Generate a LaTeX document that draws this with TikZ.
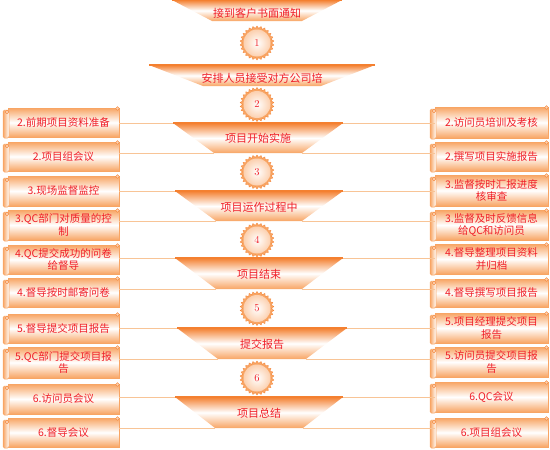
\documentclass[tikz,border=0pt]{standalone}
\usepackage{fontspec}
\newfontfamily\cjk{Noto Sans CJK SC}
\usetikzlibrary{shapes.geometric}
\definecolor{oD}{RGB}{244,128,48}
\definecolor{oM}{RGB}{248,165,100}
\definecolor{oL}{RGB}{252,208,175}
\definecolor{lineC}{RGB}{248,196,150}
\definecolor{txt}{RGB}{240,30,40}
\tikzset{
  btext/.style={font=\cjk\fontsize{11}{13}\selectfont, text=txt, inner sep=0pt},
  sbox/.style={draw=oM, line width=0.6pt, top color=oM, bottom color=oM, middle color=white,
    font=\cjk\fontsize{10.5}{12.5}\selectfont, text=txt, align=center, inner sep=0pt, text width=106pt},
  conn/.style={draw=lineC, line width=0.8pt},
  sun/.style={star, star points=26, star point ratio=1.16, fill=oM, draw=oD, line width=0.3pt,
    minimum size=34pt, inner sep=0pt},
  sunin/.style={circle, inner color=white, outer color=oL, minimum size=27pt, inner sep=0pt,
    font=\fontsize{10.5}{12}\selectfont, text=txt},
}
\newcommand\banner[8]{% name, cx, ytop, ybot, halftop, halfbot, texty, text
  \coordinate (#1tl) at ({#2-#5},#3);
  \coordinate (#1tr) at ({#2+#5},#3);
  \coordinate (#1br) at ({#2+#6},#4);
  \coordinate (#1bl) at ({#2-#6},#4);
  \shade[top color=oD, bottom color=oM, middle color=white] (#1tl)--(#1tr)--(#1br)--(#1bl)--cycle;
  \draw[oD, line width=1.2pt] (#1tl) -- (#1tr);
  \node[btext] (#1) at (#2,#7) {#8};
}
\newcommand\scrollbox[6]{% name, x1, y1, x2, y2, text
  \node[sbox, minimum width={(#4-#2-5)*1pt}, minimum height={(#5-#3-3)*1pt}]
    (#1) at ({(#2+#4+5)/2},{(#3+#5+1)/2}) {#6};
  \shade[draw=oM, line width=0.5pt, left color=oM, right color=white, rounded corners=1.5pt]
    (#2,{#3+4}) rectangle ({#2+6},#5);
  \filldraw[fill=oL, draw=oD, line width=0.4pt] ({#2+4},{#3+6}) circle (1.8pt);
  \filldraw[fill=oL, draw=oD, line width=0.4pt] ({#4-1.5},{#3+2.5}) circle (1.8pt);
}
\newcommand\sunnode[3]{% name, y, number
  \node[sun] (#1) at (257,#2) {};
  \node[sunin] (#1n) at (#1) {#3};
}
\begin{document}
\begin{tikzpicture}[x=1pt,y=-1pt]
\useasboundingbox (0,0) rectangle (550,450);

% banners
\banner{b1}{257}{0}{21}{85}{45}{13}{接到客户书面通知}
\banner{b2}{262}{65}{86}{113}{59}{78}{安排人员接受对方公司培}
\banner{b3}{258}{123}{153}{85}{44}{138}{项目开始实施}
\banner{b4}{259}{191}{221}{84}{43}{207}{项目运作过程中}
\banner{b5}{259}{258}{289}{84}{43}{274}{项目结束}
\banner{b6}{262}{328}{359}{85}{44}{344}{提交报告}
\banner{b7}{259}{397}{428}{84}{44}{413}{项目总结}

% suns
\sunnode{s1}{43}{1}
\sunnode{s2}{104.5}{2}
\sunnode{s3}{172}{3}
\sunnode{s4}{240}{4}
\sunnode{s5}{308.5}{5}
\sunnode{s6}{378}{6}

% left boxes
\scrollbox{La}{3}{106}{119}{138}{2.前期项目资料准备}
\scrollbox{Lb}{3}{140}{119}{172}{2.项目组会议}
\scrollbox{Lc}{3}{174}{119}{207}{3.现场监督监控}
\scrollbox{Ld}{3}{208}{119}{241}{3.QC部门对质量的控\\制}
\scrollbox{Le}{3}{243}{119}{275}{4.QC提交成功的问卷\\给督导}
\scrollbox{Lf}{3}{276}{119}{308}{4.督导按时邮寄问卷}
\scrollbox{Lg}{3}{312}{119}{344}{5.督导提交项目报告}
\scrollbox{Lh}{3}{345}{119}{379}{5.QC部门提交项目报\\告}
\scrollbox{Li}{3}{382}{119}{415}{6.访问员会议}
\scrollbox{Lj}{3}{416}{119}{448}{6.督导会议}

% right boxes
\scrollbox{Ra}{430}{105}{548}{139}{2.访问员培训及考核}
\scrollbox{Rb}{430}{140}{548}{172}{2.撰写项目实施报告}
\scrollbox{Rc}{430}{173}{548}{207}{3.监督按时汇报进度\\核审查}
\scrollbox{Rd}{430}{208}{548}{241}{3.监督及时反馈信息\\给QC和访问员}
\scrollbox{Re}{430}{242}{548}{275}{4.督导整理项目资料\\并归档}
\scrollbox{Rf}{430}{277}{548}{308}{4.督导撰写项目报告}
\scrollbox{Rg}{430}{311}{548}{344}{5.项目经理提交项目\\报告}
\scrollbox{Rh}{430}{345}{548}{378}{5.访问员提交项目报\\告}
\scrollbox{Ri}{430}{380}{548}{413}{6.QC会议}
\scrollbox{Rj}{430}{416}{548}{448}{6.项目组会议}

% connectors
\foreach \b/\u/\l/\ru/\rl in {b3/La/Lb/Ra/Rb, b4/Lc/Ld/Rc/Rd, b5/Le/Lf/Re/Rf, b6/Lg/Lh/Rg/Rh, b7/Li/Lj/Ri/Rj}{
  \draw[conn] (\u.east |- \b tl) -- (\b tl);
  \draw[conn] (\l.east |- \b bl) -- (\b bl);
  \draw[conn] (\b tr) -- (\ru.west |- \b tr);
  \draw[conn] (\b br) -- (\rl.west |- \b br);
}
\end{tikzpicture}
\end{document}
